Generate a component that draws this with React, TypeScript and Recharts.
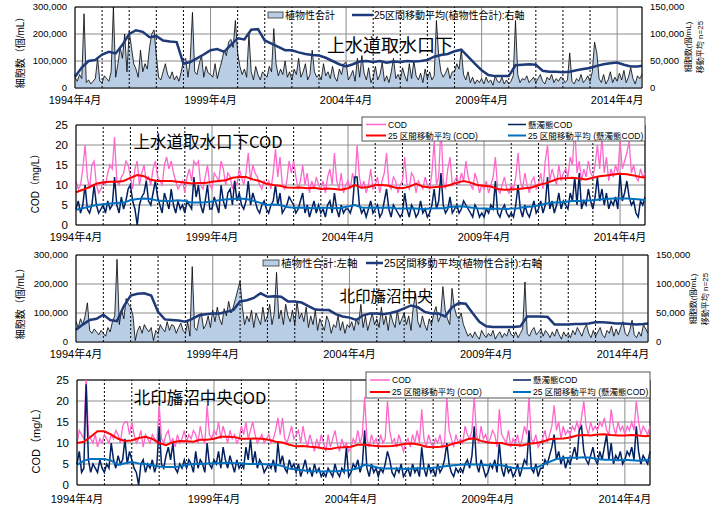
import React from "react";
import { ComposedChart, Area, Line, XAxis, YAxis, CartesianGrid, ReferenceLine } from "recharts";

const FONT = "'Liberation Sans', 'Noto Sans CJK JP', sans-serif";
const JP = "'Noto Sans CJK JP', sans-serif";
const W = 726;
const MONTHS = 252; // 1994/4 .. 2015/3, monthly
const X_MAX = MONTHS - 1;

const xTicks = [0, 60, 120, 180, 240];
const xLabels = ["1994年4月", "1999年4月", "2004年4月", "2009年4月", "2014年4月"];
const yearLines = Array.from({ length: 20 }, (_, i) => (i + 1) * 12).filter((m) => m % 60 !== 0);

const cellTicksL = [0, 100, 200, 300];
const cellTicksR = [0, 50, 100, 150];
const codTicks = [0, 5, 10, 15, 20, 25];

// 上水道取水口下 植物性合計 (thousand cells/mL), monthly
const plantA = [
  40, 25, 50, 35, 275, 20, 30, 15, 25, 35, 110, 25,
  20, 45, 35, 25, 60, 300, 40, 90, 150, 110, 200, 60,
  210, 150, 90, 70, 40, 140, 60, 90, 70, 150, 200, 215,
  120, 40, 30, 60, 90, 50, 35, 60, 30, 45, 25, 60,
  100, 110, 40, 105, 280, 60, 50, 90, 120, 40, 80, 55,
  50, 40, 90, 35, 70, 100, 140, 120, 170, 180, 150, 250,
  130, 80, 50, 70, 40, 200, 60, 30, 80, 50, 30, 60,
  50, 40, 80, 60, 220, 90, 45, 70, 50, 100, 40, 60,
  30, 70, 50, 110, 40, 60, 90, 30, 50, 140, 60, 40,
  50, 30, 90, 45, 60, 35, 80, 40, 25, 70, 50, 90,
  95, 30, 45, 65, 25, 110, 40, 120, 55, 30, 75, 20,
  40, 80, 30, 50, 95, 25, 45, 20, 60, 110, 35, 50,
  30, 75, 45, 25, 90, 35, 100, 45, 30, 55, 20, 70,
  35, 60, 30, 45, 250, 120, 60, 40, 55, 75, 35, 60,
  60, 90, 70, 140, 50, 30, 60, 20, 40, 15, 30, 20,
  35, 15, 40, 20, 30, 10, 45, 25, 20, 40, 15, 30,
  15, 25, 45, 250, 50, 20, 35, 30, 45, 20, 30, 40,
  20, 35, 50, 25, 15, 40, 30, 50, 20, 35, 25, 40,
  35, 20, 30, 130, 25, 15, 35, 25, 50, 20, 30, 45,
  25, 60, 170, 130, 35, 20, 50, 15, 30, 60, 20, 40,
  25, 55, 30, 65, 20, 40, 75, 35, 15, 45, 35, 50,
];
// 25区間移動平均 (thousand cells/mL), every 3 months
const plantAvgA = [
  21, 38, 50, 52, 62, 67, 64, 80, 100, 107,
  104, 94, 96, 88, 86, 85, 45, 48, 55, 62,
  70, 72, 67, 80, 92, 90, 108, 109, 88, 82,
  76, 70, 70, 66, 63, 61, 60, 56, 50, 44,
  40, 44, 49, 50, 48, 50, 47, 49, 48, 50,
  49, 50, 52, 58, 61, 63, 68, 71, 58, 45,
  33, 24, 22, 22, 22, 42, 43, 44, 43, 32,
  30, 30, 29, 30, 33, 35, 37, 41, 44, 46,
  47, 43, 40, 40, 41,
];

// 上水道取水口下 COD / 懸濁態COD (mg/L), monthly
const codA = [
  11, 9, 10, 14, 20, 12, 9, 15, 16, 10, 8, 9,
  11, 10, 13, 15, 14, 22, 11, 10, 12, 13, 16, 15,
  12, 9, 14, 16, 10, 13, 15, 11, 12, 10, 14, 16,
  12, 11, 10, 15, 17, 14, 16, 13, 11, 9, 10, 11,
  8, 12, 14, 11, 16, 15, 16, 10, 9, 12, 15, 10,
  9, 13, 12, 11, 16, 14, 10, 13, 12, 9, 11, 10,
  14, 12, 10, 13, 18, 11, 15, 13, 12, 10, 9, 11,
  10, 11, 9, 13, 19, 12, 17, 10, 9, 11, 16, 13,
  16, 12, 9, 11, 15, 10, 13, 8, 11, 9, 12, 10,
  9, 11, 8, 12, 14, 10, 18, 11, 9, 13, 8, 10,
  11, 9, 13, 10, 20, 12, 9, 11, 8, 10, 14, 9,
  10, 12, 8, 11, 13, 18, 10, 9, 12, 11, 8, 10,
  11, 17, 10, 9, 13, 12, 8, 11, 10, 9, 12, 10,
  9, 13, 21, 10, 12, 25, 11, 9, 14, 17, 10, 11,
  12, 10, 13, 11, 16, 12, 10, 9, 13, 11, 8, 10,
  9, 11, 8, 10, 12, 17, 9, 8, 10, 12, 9, 8,
  10, 9, 12, 18, 11, 9, 13, 10, 8, 11, 12, 9,
  10, 13, 9, 16, 20, 11, 14, 12, 10, 15, 11, 13,
  14, 12, 17, 15, 25, 13, 16, 11, 14, 12, 16, 13,
  12, 15, 20, 14, 22, 13, 17, 11, 14, 12, 15, 13,
  21, 14, 16, 18, 21, 13, 15, 12, 11, 14, 12, 13,
];
const sCodA = [
  4, 6, 3, 5, 10, 4, 3, 5, 10, 5, 3, 4,
  5, 3, 6, 4, 5, 12, 5, 3, 7, 4, 6, 9,
  10, 6, 4, 0, 5, 7, 8, 11, 6, 5, 8, 11,
  7, 5, 3, 8, 6, 4, 9, 5, 3, 6, 4, 5,
  3, 6, 5, 4, 12, 7, 10, 5, 3, 6, 10, 4,
  4, 7, 5, 3, 10, 6, 4, 8, 9, 5, 11, 6,
  8, 5, 4, 6, 11, 5, 8, 6, 4, 3, 5, 6,
  4, 3, 5, 6, 10, 5, 8, 3, 4, 5, 7, 6,
  5, 3, 4, 6, 8, 3, 5, 2, 4, 6, 3, 5,
  3, 4, 2, 5, 6, 3, 8, 4, 2, 5, 3, 4,
  4, 3, 5, 12, 12, 5, 3, 4, 2, 4, 6, 3,
  4, 5, 2, 3, 6, 9, 4, 2, 5, 4, 3, 2,
  3, 8, 4, 2, 5, 4, 2, 3, 6, 3, 4, 2,
  3, 5, 9, 4, 6, 13, 5, 3, 4, 7, 3, 4,
  5, 3, 4, 6, 5, 4, 3, 2, 5, 4, 2, 3,
  2, 4, 3, 5, 4, 11, 3, 2, 4, 5, 3, 2,
  3, 2, 5, 10, 4, 2, 5, 3, 2, 4, 6, 3,
  4, 6, 3, 5, 12, 4, 6, 3, 5, 8, 4, 6,
  5, 4, 8, 6, 12, 5, 13, 4, 6, 5, 9, 6,
  4, 7, 12, 6, 9, 5, 8, 4, 6, 5, 7, 4,
  13, 6, 8, 11, 7, 5, 6, 3, 2, 6, 5, 7,
];
const codAvgA = [
  8.2, 8.8, 9.5, 10.3, 10.7, 10.8, 10.8, 11, 11.8, 12.5,
  12.2, 11.3, 11, 11, 11, 10.8, 10.6, 10.4, 10.5, 10.5,
  10.8, 11, 11.2, 11.8, 12, 12, 11.4, 11, 10.3, 10,
  9.8, 9.4, 9.3, 9.4, 9.2, 9.3, 9, 9.1, 9, 8.8,
  9.2, 10, 9.3, 9.5, 10, 10, 9.8, 9.3, 9.2, 9.6,
  10.3, 9.6, 9.4, 9.5, 9.6, 10, 10.6, 11, 10.6, 10,
  9.8, 9.6, 9, 8.8, 8.9, 9, 9.2, 9.4, 10, 10.4,
  11, 11.6, 11.7, 11.8, 11.6, 11.4, 11.8, 12.2, 12.4, 12.6,
  12.8, 12.7, 12.4, 12, 11.9,
];
const sCodAvgA = [
  3.8, 4.2, 4.6, 5.0, 5.2, 5.4, 5.5, 5.6, 6.2, 6.5,
  6.6, 6.5, 6.1, 6.0, 6.0, 6.2, 6.0, 5.6, 5.6, 5.7,
  5.9, 6.2, 6.4, 6.5, 6.6, 6.5, 6.1, 5.6, 5.0, 5.1,
  5.0, 4.5, 4.3, 4.4, 4.3, 4.2, 4.3, 4.3, 4.2, 4.3,
  4.6, 5.0, 4.4, 4.3, 4.4, 4.3, 4.4, 4.2, 4.1, 4.2,
  4.1, 4.0, 4.1, 4.2, 4.2, 4.5, 4.6, 4.6, 4.4, 4.2,
  4.1, 4.0, 4.1, 4.0, 4.1, 4.2, 4.5, 4.6, 4.9, 5.3,
  5.6, 5.6, 5.8, 6.0, 6.0, 6.1, 6.2, 6.4, 6.5, 6.6,
  6.6, 6.6, 6.5, 6.4, 6.2,
];

// 北印旛沼中央 植物性合計 (thousand cells/mL), monthly
const plantB = [
  70, 50, 80, 60, 90, 135, 40, 30, 45, 35, 25, 40,
  30, 20, 50, 35, 70, 90, 285, 60, 110, 80, 150, 130,
  120, 90, 5, 40, 55, 30, 60, 45, 35, 50, 5, 40,
  30, 60, 45, 35, 70, 40, 60, 55, 30, 50, 65, 40,
  30, 70, 20, 260, 50, 40, 80, 100, 45, 60, 90, 50,
  110, 70, 120, 80, 60, 115, 90, 140, 100, 120, 150, 180,
  210, 120, 60, 90, 70, 110, 50, 100, 80, 60, 120, 70,
  90, 130, 60, 100, 240, 80, 110, 60, 130, 90, 70, 110,
  60, 140, 80, 100, 70, 120, 50, 90, 60, 110, 40, 80,
  60, 40, 90, 70, 30, 60, 50, 90, 40, 70, 30, 60,
  50, 70, 40, 80, 60, 130, 50, 90, 40, 70, 100, 60,
  80, 50, 120, 60, 90, 40, 100, 70, 50, 110, 60, 80,
  100, 60, 90, 40, 120, 168, 70, 50, 90, 60, 40, 80,
  60, 100, 122, 70, 90, 191, 110, 80, 60, 185, 120, 90,
  80, 100, 60, 40, 20, 30, 15, 35, 20, 10, 40, 25,
  15, 30, 20, 40, 10, 25, 35, 15, 30, 20, 45, 25,
  20, 35, 15, 30, 45, 207, 30, 20, 40, 50, 25, 35,
  45, 20, 40, 30, 15, 35, 20, 45, 25, 10, 35, 20,
  30, 15, 40, 25, 50, 35, 20, 45, 60, 30, 15, 40,
  20, 35, 50, 25, 15, 40, 30, 55, 20, 45, 25, 50,
  70, 30, 20, 40, 75, 25, 15, 35, 20, 60, 45, 30,
];
const plantAvgB = [
  21, 30, 38, 40, 47, 38, 36, 62, 80, 83,
  84, 80, 52, 39, 38, 37, 35, 40, 46, 48,
  49, 49, 52, 55, 70, 72, 76, 84, 78, 79,
  78, 70, 70, 68, 62, 56, 55, 55, 48, 44,
  42, 38, 46, 49, 49, 48, 50, 53, 58, 63,
  60, 52, 49, 49, 44, 60, 67, 66, 50, 35,
  27, 26, 26, 26, 26, 27, 44, 44, 44, 43,
  30, 30, 30, 31, 31, 32, 34, 34, 33, 32,
  32, 31, 30, 31, 32,
];

// 北印旛沼中央 COD / 懸濁態COD (mg/L), monthly
const codB = [
  10, 13, 12, 11, 26, 12, 11, 10, 12, 9, 11, 10,
  12, 11, 10, 12, 11, 13, 12, 10, 14, 15, 15, 12,
  15, 12, 10, 11, 13, 9, 12, 11, 10, 12, 11, 10,
  19, 11, 10, 12, 13, 10, 11, 9, 12, 10, 11, 13,
  10, 12, 11, 13, 12, 10, 14, 11, 10, 19, 12, 11,
  13, 12, 15, 11, 14, 12, 10, 13, 11, 12, 10, 11,
  14, 12, 15, 11, 13, 15, 12, 10, 11, 12, 10, 11,
  12, 10, 11, 13, 16, 12, 16, 11, 10, 12, 14, 11,
  12, 13, 10, 14, 11, 9, 12, 10, 8, 11, 9, 12,
  10, 8, 12, 9, 11, 13, 10, 8, 11, 9, 10, 8,
  9, 11, 10, 13, 10, 12, 21, 11, 9, 12, 10, 11,
  9, 12, 10, 11, 20, 13, 10, 11, 9, 12, 10, 8,
  10, 11, 9, 12, 10, 13, 10, 18, 11, 9, 12, 10,
  9, 11, 10, 12, 9, 10, 21, 13, 11, 9, 12, 10,
  11, 10, 14, 12, 11, 13, 21, 12, 10, 14, 11, 12,
  10, 11, 13, 12, 9, 18, 12, 11, 10, 13, 9, 11,
  10, 12, 9, 11, 14, 12, 21, 11, 10, 12, 9, 10,
  11, 13, 10, 12, 14, 19, 13, 15, 11, 14, 12, 13,
  12, 14, 13, 15, 13, 16, 20, 14, 12, 15, 13, 14,
  13, 15, 14, 16, 13, 12, 18, 14, 12, 15, 13, 14,
  12, 14, 13, 15, 13, 20, 15, 12, 14, 13, 12, 14,
];
const sCodB = [
  5, 8, 3, 4, 24, 6, 3, 5, 4, 3, 6, 4,
  3, 5, 4, 10, 6, 4, 7, 5, 6, 11, 5, 8,
  6, 4, 3, 0, 5, 6, 3, 5, 4, 6, 3, 5,
  14, 5, 4, 7, 9, 6, 10, 4, 3, 5, 4, 6,
  4, 6, 5, 3, 8, 4, 6, 5, 3, 10, 5, 4,
  6, 5, 8, 4, 9, 6, 4, 7, 5, 3, 6, 4,
  5, 4, 9, 6, 11, 5, 8, 4, 6, 5, 3, 4,
  5, 4, 6, 3, 10, 5, 7, 4, 3, 6, 4, 5,
  3, 5, 2, 4, 6, 3, 4, 2, 5, 3, 4, 2,
  3, 2, 4, 3, 2, 5, 3, 2, 4, 3, 9, 2,
  3, 5, 4, 6, 3, 5, 13, 4, 2, 5, 3, 4,
  2, 4, 3, 5, 8, 6, 3, 2, 4, 3, 5, 2,
  3, 4, 2, 5, 3, 4, 2, 9, 4, 2, 5, 3,
  4, 2, 5, 3, 4, 6, 10, 5, 3, 2, 4, 3,
  4, 3, 5, 6, 4, 7, 14, 5, 3, 6, 4, 2,
  3, 5, 4, 6, 3, 10, 4, 2, 5, 3, 4, 2,
  3, 5, 2, 4, 6, 5, 13, 4, 3, 5, 2, 4,
  4, 6, 5, 7, 9, 12, 6, 8, 5, 7, 4, 6,
  5, 7, 9, 6, 13, 14, 8, 6, 5, 7, 9, 6,
  5, 8, 6, 9, 12, 6, 10, 5, 7, 6, 8, 5,
  6, 8, 7, 9, 6, 14, 8, 5, 7, 6, 5, 8,
];
const codAvgB = [
  10, 10.3, 11.5, 12.8, 12.8, 12, 11, 10.5, 10.6, 11.2,
  11.5, 11, 10, 9.5, 10.2, 10.5, 10.4, 10.3, 10.8, 10.8,
  11, 11.5, 11.5, 11.4, 11, 11, 11.1, 11, 10.8, 10.3,
  10.1, 9.6, 9.2, 9.3, 9.1, 9.0, 8.7, 8.6, 8.9, 9.0,
  9.1, 9.6, 9.6, 9.4, 9.2, 9.2, 9.3, 9.5, 9.8, 9.9,
  9.6, 9.1, 9.0, 9.1, 9.3, 9.9, 10.2, 10.9, 11.1, 10.5,
  10.1, 10, 10, 9.6, 9.5, 9.4, 9.8, 10, 10.3, 10.9,
  11, 11.1, 11.3, 11.8, 11.9, 11.8, 12, 12.1, 11.9, 11.8,
  11.8, 11.9, 11.8, 11.6, 11.7,
];
const sCodAvgB = [
  4.8, 5.8, 6.2, 6.2, 6.2, 5.8, 4.8, 5.2, 5.5, 5.1,
  5.0, 4.7, 4.4, 4.3, 4.3, 4.4, 4.8, 5.0, 5.0, 5.1,
  5.2, 5.2, 5.3, 5.2, 5.2, 5.0, 5.0, 5.0, 4.9, 4.9,
  4.5, 3.9, 3.7, 3.5, 3.3, 3.3, 3.2, 3.3, 3.3, 3.4,
  3.6, 4.0, 4.8, 4.5, 4.1, 3.9, 3.9, 3.9, 3.8, 3.9,
  4.0, 3.9, 4.1, 4.3, 4.5, 4.7, 4.8, 4.9, 4.9, 4.8,
  4.7, 4.8, 4.7, 4.3, 4.0, 4.0, 4.0, 4.1, 4.8, 5.5,
  6.2, 6.4, 6.5, 6.5, 6.6, 6.5, 6.2, 6.0, 6.0, 5.9,
  6.0, 5.9, 5.8, 5.9, 6.1,
];

type Row = Record<string, number | null>;

// monthly series go on every row, 3-monthly averages on every third row
function buildRows(monthly: Record<string, number[]>, quarterly: Record<string, number[]>): Row[] {
  const rows: Row[] = [];
  for (let m = 0; m < MONTHS; m++) {
    const r: Row = { m };
    for (const k in monthly) r[k] = monthly[k][m];
    for (const k in quarterly) r[k] = null;
    rows.push(r);
  }
  for (const k in quarterly) {
    quarterly[k].forEach((v, i) => {
      rows[Math.min(i * 3, X_MAX)][k] = v;
    });
  }
  return rows;
}

const rowsA = buildRows({ raw: plantA }, { ma: plantAvgA });
const rowsB = buildRows({ cod: codA, scod: sCodA }, { codMa: codAvgA, scodMa: sCodAvgA });
const rowsC = buildRows({ raw: plantB }, { ma: plantAvgB });
const rowsD = buildRows({ cod: codB, scod: sCodB }, { codMa: codAvgB, scodMa: sCodAvgB });

const fmtK = (v: number) => (v === 0 ? "0" : `${v},000`);
const fmtX = (v: number) => xLabels[xTicks.indexOf(v)] ?? "";

const C = {
  area: "#b9cde5",
  cellMa: "#1f3a78",
  cod: "#ff66cc",
  scod: "#002060",
  codMa: "#ff0000",
  scodMa: "#0070c0",
  grid: "#8c8c8c",
};

type PanelProps = {
  rows: Row[];
  top: number;
  height: number;
  mTop: number;
  xH: number;
  left: number;
  right: number;
  tickMargin?: number;
};

function XAx({ xH, tickMargin = 2 }: { xH: number; tickMargin?: number }) {
  return (
    <XAxis
      dataKey="m"
      type="number"
      domain={[0, X_MAX]}
      ticks={xTicks}
      interval={0}
      tickFormatter={fmtX}
      height={xH}
      tickLine={false}
      tickMargin={tickMargin}
      axisLine={{ stroke: "#000" }}
      tick={{ fontSize: 11, fill: "#000", fontFamily: FONT }}
    />
  );
}

function CellPanel({ rows, top, height, mTop, xH, left, right }: PanelProps) {
  return (
    <div style={{ position: "absolute", left: 0, top }}>
      <ComposedChart width={W} height={height} data={rows} margin={{ top: mTop, right: 0, bottom: 0, left: 0 }}>
        <CartesianGrid yAxisId="l" stroke={C.grid} />
        {XAx({ xH })}
        <YAxis
          yAxisId="l"
          width={left}
          domain={[0, 300]}
          ticks={cellTicksL}
          interval={0}
          tickFormatter={fmtK}
          tickLine={false}
          axisLine={{ stroke: "#000" }}
          tick={{ fontSize: 9.5, fill: "#000", fontFamily: FONT }}
        />
        <YAxis
          yAxisId="r"
          orientation="right"
          width={W - right}
          domain={[0, 150]}
          ticks={cellTicksR}
          interval={0}
          tickFormatter={fmtK}
          tickLine={false}
          axisLine={{ stroke: "#000" }}
          tick={{ fontSize: 9.5, fill: "#000", fontFamily: FONT }}
        />
        {yearLines.map((m) => (
          <ReferenceLine key={m} x={m} yAxisId="l" stroke="#000" strokeDasharray="2 2" />
        ))}
        <ReferenceLine y={300} yAxisId="l" stroke="#000" />
        <Area
          yAxisId="l"
          dataKey="raw"
          type="linear"
          stroke="#000"
          strokeWidth={0.8}
          fill={C.area}
          fillOpacity={1}
          dot={false}
          activeDot={false}
          isAnimationActive={false}
        />
        <Line
          yAxisId="r"
          dataKey="ma"
          type="linear"
          stroke={C.cellMa}
          strokeWidth={2.5}
          dot={false}
          activeDot={false}
          connectNulls
          isAnimationActive={false}
        />
      </ComposedChart>
    </div>
  );
}

function CodPanel({ rows, top, height, mTop, xH, left, right, tickMargin }: PanelProps) {
  return (
    <div style={{ position: "absolute", left: 0, top }}>
      <ComposedChart width={W} height={height} data={rows} margin={{ top: mTop, right: W - right, bottom: 0, left: 0 }}>
        <CartesianGrid yAxisId="c" stroke={C.grid} />
        {XAx({ xH, tickMargin })}
        <YAxis
          yAxisId="c"
          width={left}
          domain={[0, 25]}
          allowDataOverflow
          ticks={codTicks}
          interval={0}
          tickLine={false}
          axisLine={{ stroke: "#000" }}
          tick={{ fontSize: 11.5, fill: "#000", fontFamily: FONT }}
        />
        {yearLines.map((m) => (
          <ReferenceLine key={m} x={m} yAxisId="c" stroke="#000" strokeDasharray="2 2" />
        ))}
        <ReferenceLine y={25} yAxisId="c" stroke="#000" />
        <ReferenceLine x={X_MAX} yAxisId="c" stroke="#000" />
        <Line yAxisId="c" dataKey="cod" type="linear" stroke={C.cod} strokeWidth={1.3} dot={false} activeDot={false} isAnimationActive={false} />
        <Line yAxisId="c" dataKey="scod" type="linear" stroke={C.scod} strokeWidth={1.5} dot={false} activeDot={false} isAnimationActive={false} />
        <Line yAxisId="c" dataKey="codMa" type="linear" stroke={C.codMa} strokeWidth={2} dot={false} activeDot={false} connectNulls isAnimationActive={false} />
        <Line yAxisId="c" dataKey="scodMa" type="linear" stroke={C.scodMa} strokeWidth={2} dot={false} activeDot={false} connectNulls isAnimationActive={false} />
      </ComposedChart>
    </div>
  );
}

function VText({ x, y, size, children }: { x: number; y: number; size: number; children: React.ReactNode }) {
  return (
    <text x={x} y={y} transform={`rotate(-90 ${x} ${y})`} textAnchor="middle" dominantBaseline="central" fontSize={size} fontFamily={FONT} fill="#000">
      {children}
    </text>
  );
}

function T({ x, y, size, children, anchor = "start", font = FONT }: { x: number; y: number; size: number; children: React.ReactNode; anchor?: string; font?: string }) {
  return (
    <text x={x} y={y} fontSize={size} fontFamily={font} textAnchor={anchor as any} dominantBaseline="central" fill="#000">
      {children}
    </text>
  );
}

function CodLegend({ x, y, w, h, r1, r2, ix1, ix2, tx1, tx2 }: { x: number; y: number; w: number; h: number; r1: number; r2: number; ix1: number; ix2: number; tx1: number; tx2: number }) {
  return (
    <g>
      <rect x={x} y={y} width={w} height={h} fill="#fff" stroke="#555" strokeWidth={1} />
      <line x1={ix1} x2={tx1 - 2} y1={r1} y2={r1} stroke={C.cod} strokeWidth={1.5} />
      <T x={tx1} y={r1} size={8.5}>COD</T>
      <line x1={ix2} x2={tx2 - 2} y1={r1} y2={r1} stroke={C.scod} strokeWidth={1.5} />
      <T x={tx2} y={r1} size={8.5}>懸濁態COD</T>
      <line x1={ix1} x2={tx1 - 2} y1={r2} y2={r2} stroke={C.codMa} strokeWidth={2} />
      <T x={tx1} y={r2} size={8.5}>25 区間移動平均 (COD)</T>
      <line x1={ix2} x2={tx2 - 2} y1={r2} y2={r2} stroke={C.scodMa} strokeWidth={2} />
      <T x={tx2} y={r2} size={8.5}>25 区間移動平均 (懸濁態COD)</T>
    </g>
  );
}

export default function App() {
  return (
    <div style={{ position: "absolute", left: 0, top: 0, width: W, height: 511, background: "#fff", fontFamily: FONT }}>
      <CellPanel rows={rowsA} top={0} height={112} mTop={7} xH={24} left={75} right={642} />
      <CodPanel rows={rowsB} top={112} height={135} mTop={13} xH={22} left={76} right={645} />
      <CellPanel rows={rowsC} top={247} height={118} mTop={8} xH={23} left={76} right={648} />
      <CodPanel rows={rowsD} top={365} height={146} mTop={15} xH={26} left={77} right={650} tickMargin={4} />

      <svg width={W} height={511} style={{ position: "absolute", left: 0, top: 0, pointerEvents: "none" }}>
        {/* panel 1 */}
        <T x={390} y={44} size={18} anchor="middle" font={JP}>上水道取水口下</T>
        <VText x={20} y={50} size={10}>細胞数（個/mL）</VText>
        <VText x={688} y={47} size={8}>細胞数(個/mL)</VText>
        <VText x={700} y={47} size={8}>移動平均 n=25</VText>
        <rect x={268} y={12} width={15} height={6} fill={C.area} stroke="#333" strokeWidth={0.8} />
        <T x={285} y={15} size={10}>植物性合計</T>
        <line x1={352} x2={373} y1={15} y2={15} stroke={C.cellMa} strokeWidth={2.5} />
        <T x={374} y={15} size={10}>25区間移動平均(植物性合計):右軸</T>

        {/* panel 2 */}
        <T x={208} y={141} size={16.5} anchor="middle" font={JP}>上水道取水口下COD</T>
        <VText x={35} y={181} size={10}>COD（mg/L）</VText>
        <CodLegend x={362} y={117} w={283} h={24} r1={124.5} r2={135.5} ix1={366} ix2={508} tx1={388} tx2={528} />

        {/* panel 3 */}
        <T x={386} y={295} size={15.5} anchor="middle" font={JP}>北印旛沼中央</T>
        <VText x={20} y={301} size={10}>細胞数（個/mL）</VText>
        <VText x={693} y={299} size={8}>細胞数(個/mL)</VText>
        <VText x={705} y={299} size={8}>移動平均 n=25</VText>
        <rect x={263} y={260} width={16} height={6} fill={C.area} stroke="#333" strokeWidth={0.8} />
        <T x={281} y={263} size={10.5}>植物性合計:左軸</T>
        <line x1={366} x2={383} y1={263} y2={263} stroke={C.cellMa} strokeWidth={2.5} />
        <T x={384} y={263} size={10.5}>25区間移動平均(植物性合計):右軸</T>

        {/* panel 4 */}
        <T x={200} y={397} size={16.5} anchor="middle" font={JP}>北印旛沼中央COD</T>
        <VText x={36} y={438} size={11}>COD（mg/L）</VText>
        <CodLegend x={366} y={372} w={284} h={26} r1={380} r2={392} ix1={370} ix2={513} tx1={392} tx2={533} />
      </svg>
    </div>
  );
}
